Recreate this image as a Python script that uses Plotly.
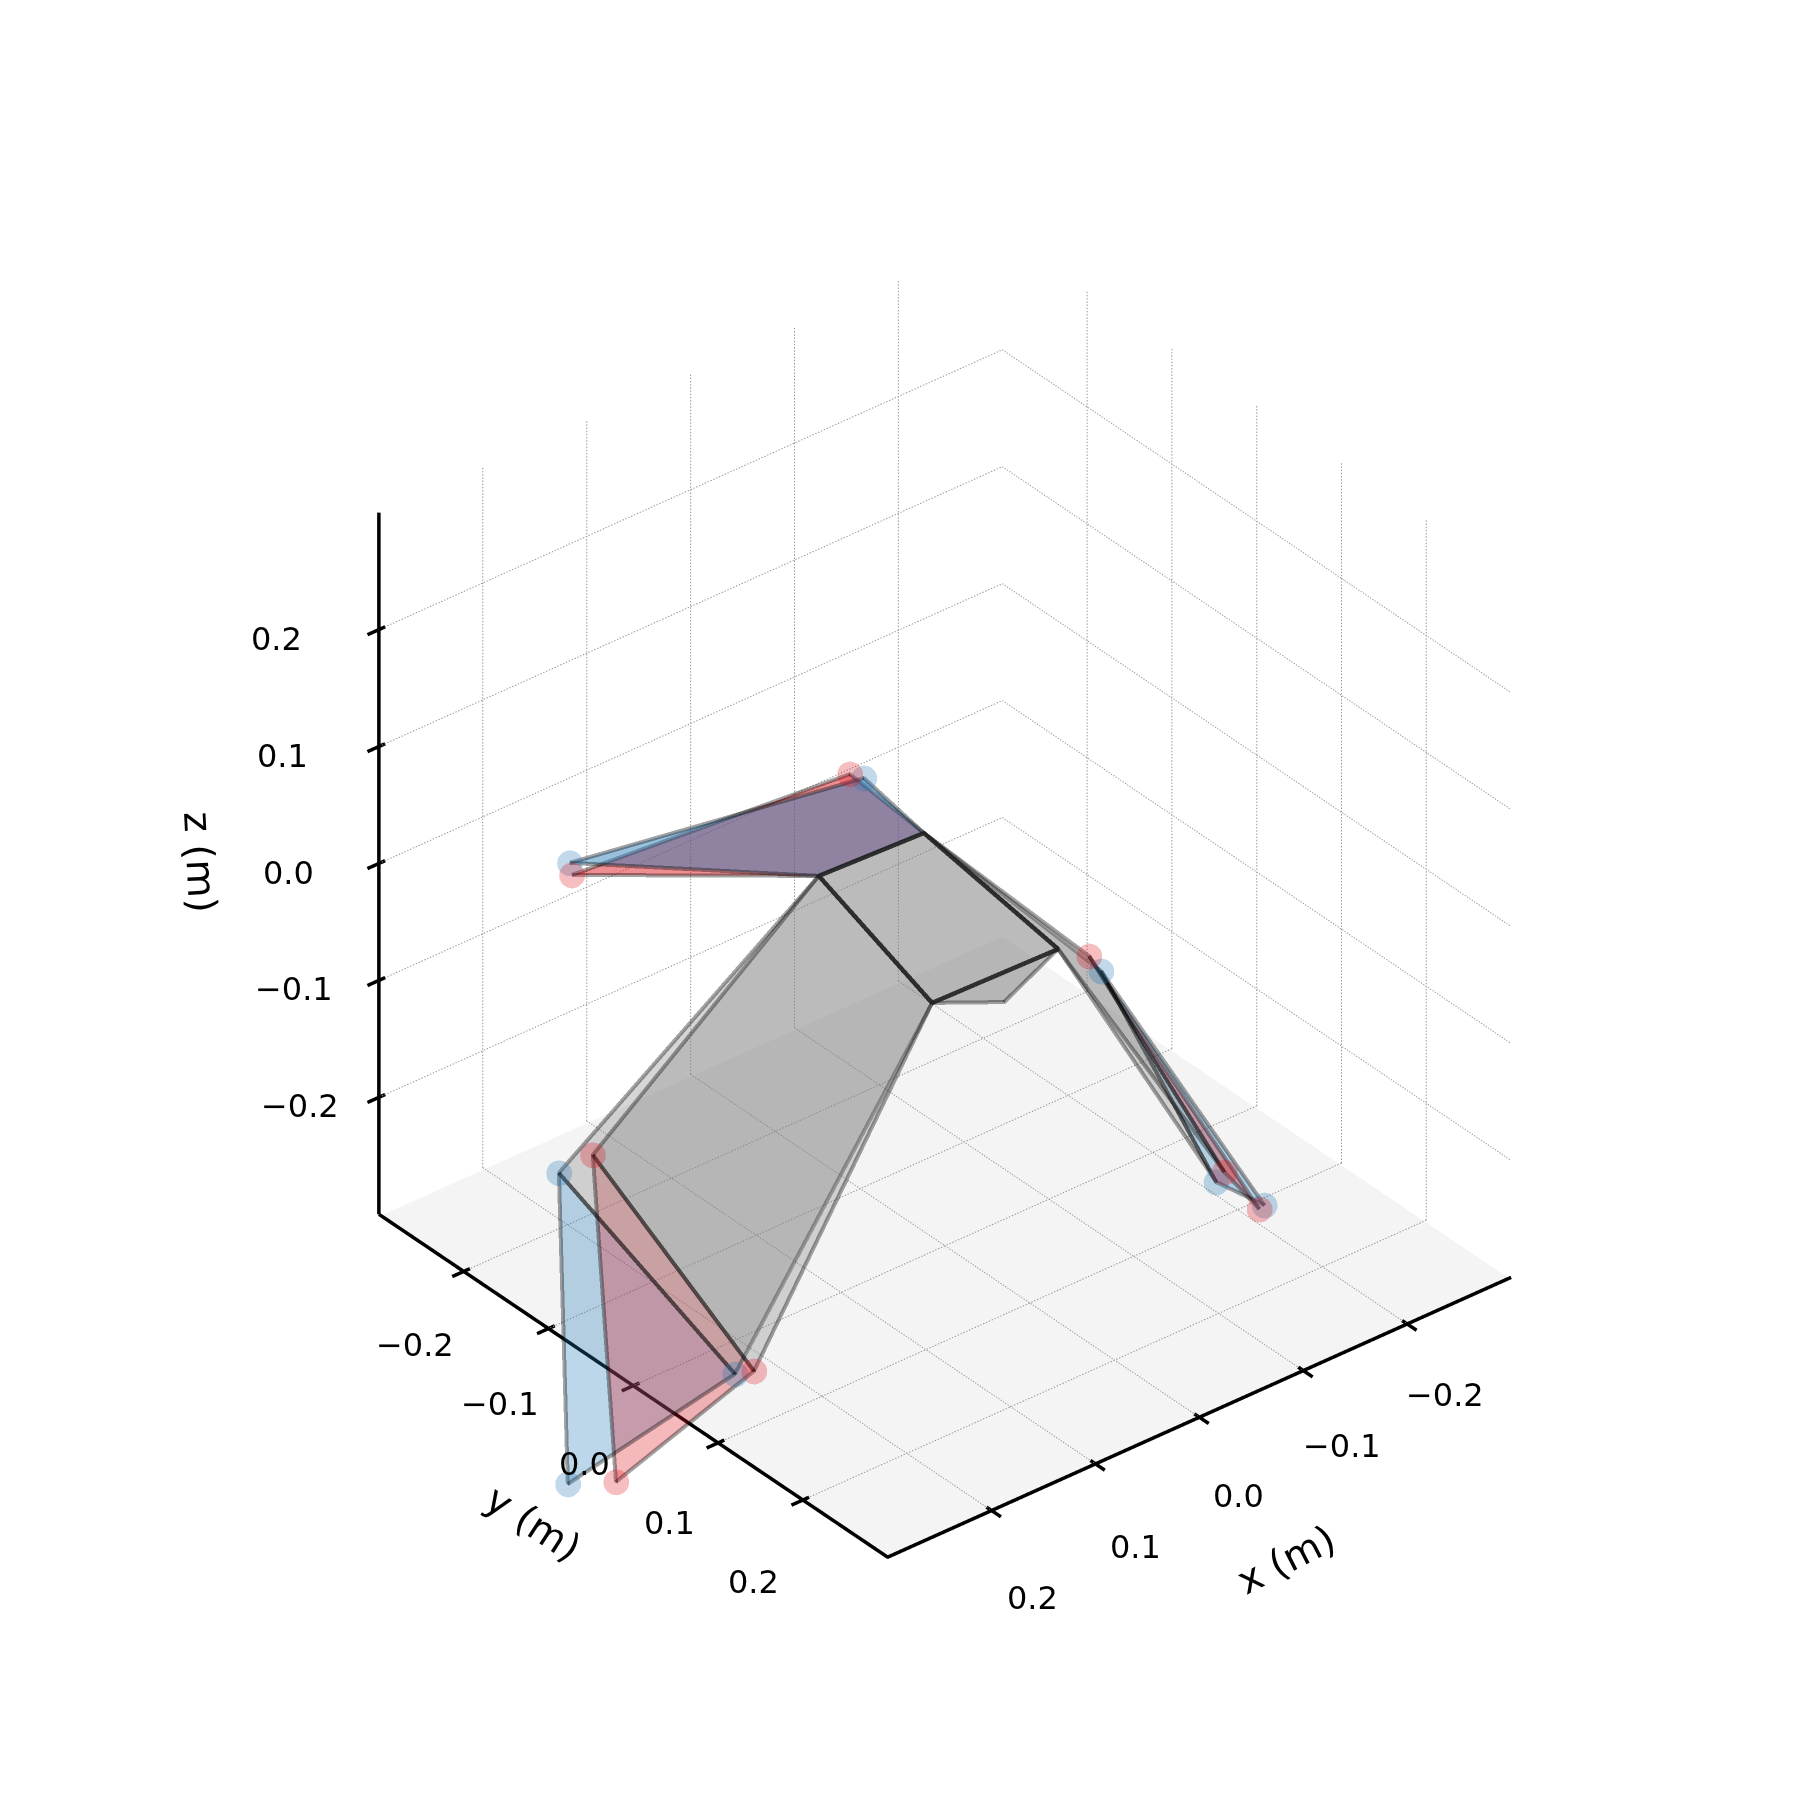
import plotly.graph_objects as go

# ---- data (metres) ----
body_x = [0.0265, -0.0710, -0.0491, 0.0699, 0.0075]
body_y = [-0.1164, -0.1119, 0.0733, 0.0704, 0.0789]
body_z = [-0.03, -0.03, -0.03, -0.03, -0.05]

red_x = [0.1483, -0.0487, -0.0309, -0.0742, -0.1128, 0.2258, 0.2678, 0.3924]
red_y = [-0.2584, -0.1719, 0.1321, 0.2385, 0.2325, -0.1387, 0.1029, 0.0928]
red_z = [-0.05, 0.0, 0.0, -0.15, -0.2, -0.2, -0.25, -0.3]

blue_x = [0.1391, -0.0534, -0.0250, -0.0610, -0.1191, 0.2608, 0.2813, 0.4220]
blue_y = [-0.2721, -0.1611, 0.1535, 0.2451, 0.2306, -0.1358, 0.0970, 0.0723]
blue_z = [-0.05, 0.0, 0.0, -0.15, -0.2, -0.2, -0.25, -0.3]

tick_values = [-0.2, -0.1, 0.0, 0.1, 0.2]
tick_labels = ["\u22120.2", "\u22120.1", "0.0", "0.1", "0.2"]
box_limit = 0.3

# ---- style ----
RED = "rgb(220,20,30)"
BLUE = "rgb(31,119,180)"
GREY = "rgb(128,128,128)"
FONT = "DejaVu Sans"
EDGE = "rgba(0,0,0,0.36)"
DARK = "rgba(30,30,30,0.85)"
EW = 8
GREY_A = 0.32
lim = box_limit
FLAT = dict(ambient=1, diffuse=0, specular=0, roughness=1, fresnel=0)


def side(xs, ys, zs):
    return (list(body_x) + list(xs), list(body_y) + list(ys), list(body_z) + list(zs))


def polygon(verts, idx, color, opacity):
    X, Y, Z = verts
    return go.Mesh3d(
        x=[X[n] for n in idx], y=[Y[n] for n in idx], z=[Z[n] for n in idx],
        i=[0] * (len(idx) - 2), j=list(range(1, len(idx) - 1)), k=list(range(2, len(idx))),
        color=color, opacity=opacity, flatshading=True, lighting=FLAT,
        hoverinfo="skip", showscale=False,
    )


def outline(verts, idx, color, width=EW):
    X, Y, Z = verts
    loop = list(idx) + [idx[0]]
    return go.Scatter3d(
        x=[X[n] for n in loop], y=[Y[n] for n in loop], z=[Z[n] for n in loop],
        mode="lines", line=dict(color=color, width=width), hoverinfo="skip", showlegend=False,
    )


def dotted(a, b, count=220):
    """Short dashes along a grid line, so the dots keep the same pitch at any zoom."""
    xs, ys, zs = [], [], []
    for m in range(count):
        f0, f1 = m / count, (m + 0.45) / count
        xs += [a[0] + (b[0] - a[0]) * f0, a[0] + (b[0] - a[0]) * f1, None]
        ys += [a[1] + (b[1] - a[1]) * f0, a[1] + (b[1] - a[1]) * f1, None]
        zs += [a[2] + (b[2] - a[2]) * f0, a[2] + (b[2] - a[2]) * f1, None]
    return xs, ys, zs


fig = go.Figure()

# floor pane
fig.add_trace(go.Mesh3d(
    x=[-lim, lim, lim, -lim], y=[-lim, -lim, lim, lim], z=[-lim - 0.002] * 4,
    i=[0, 0], j=[1, 2], k=[2, 3], color="#f4f4f4", opacity=1, flatshading=True,
    lighting=FLAT, hoverinfo="skip",
))

# dotted grid on the floor and the two back walls
gx, gy, gz = [], [], []
for t in tick_values:
    for a, b in (
        ((t, -lim, -lim), (t, lim, -lim)), ((-lim, t, -lim), (lim, t, -lim)),
        ((t, -lim, -lim), (t, -lim, lim)), ((lim, -lim, t), (-lim, -lim, t)),
        ((-lim, t, -lim), (-lim, t, lim)), ((-lim, -lim, t), (-lim, lim, t)),
    ):
        sx, sy, sz = dotted(a, b)
        gx += sx
        gy += sy
        gz += sz
fig.add_trace(go.Scatter3d(x=gx, y=gy, z=gz, mode="lines",
                           line=dict(color="rgb(150,150,150)", width=2),
                           hoverinfo="skip", showlegend=False))

# surfaces
red_v = side(red_x, red_y, red_z)
blue_v = side(blue_x, blue_y, blue_z)
n = len(body_x)
upper = [n + 0, n + 1, 1, 0]
tips = [[n + 2, n + 3, n + 4], [n + 5, n + 6, n + 7]]
bands = [[0, 3, n + 6, n + 5], [2, n + 3, n + 2, 1]]
torso = [0, 1, 2, 3]
tail = [3, 2, 4]

for verts, col, second in ((red_v, RED, 0.26), (blue_v, BLUE, 0.22)):
    fig.add_trace(polygon(verts, upper, col, 0.3))
    fig.add_trace(polygon(verts, upper, col, second))
    fig.add_trace(outline(verts, upper, EDGE))
for verts, col in ((blue_v, BLUE), (red_v, RED)):
    for t in tips:
        fig.add_trace(polygon(verts, t, col, 0.3))
for verts in (blue_v, red_v):
    for b in bands:
        fig.add_trace(polygon(verts, b, GREY, GREY_A))
    for t in tips:
        fig.add_trace(outline(verts, t, EDGE))
    for b in bands:
        fig.add_trace(outline(verts, b, EDGE))

for verts in (red_v, blue_v):
    fig.add_trace(polygon(verts, torso, GREY, GREY_A))
    fig.add_trace(polygon(verts, tail, GREY, GREY_A))
fig.add_trace(outline(red_v, tail, EDGE))
fig.add_trace(outline(red_v, torso, DARK, 9))

# joints
for xs, ys, zs, col in ((blue_x, blue_y, blue_z, BLUE), (red_x, red_y, red_z, RED)):
    fig.add_trace(go.Scatter3d(x=xs, y=ys, z=zs, mode="markers",
                               marker=dict(size=15, color=col, opacity=0.28, line=dict(width=0)),
                               hoverinfo="skip", showlegend=False))

# axis lines and ticks
tx = [lim, lim, -lim, None, lim, lim]
ty = [-lim, lim, lim, None, -lim, -lim]
tz = [-lim, -lim, -lim, None, -lim, lim]
OUT, IN = 0.011, 0.006
for t in tick_values:
    tx += [None, t, t, None, lim + OUT, lim - IN, None, lim + OUT, lim - IN]
    ty += [None, lim + OUT, lim - IN, None, t, t, None, -lim, -lim]
    tz += [None, -lim, -lim, None, -lim, -lim, None, t, t]
fig.add_trace(go.Scatter3d(x=tx, y=ty, z=tz, mode="lines",
                           line=dict(color="black", width=7), hoverinfo="skip", showlegend=False))

# tick labels and axis titles
anns = []
font = dict(family=FONT, size=32, color="black")
tfont = dict(family=FONT, size=39, color="black")
for t, lab in zip(tick_values, tick_labels):
    anns.append(dict(x=t, y=lim, z=-lim, text=lab, showarrow=False, font=font,
                     xshift=39 + 8 * t, yshift=-79 - 40 * t))
    anns.append(dict(x=lim, y=t, z=-lim, text=lab, showarrow=False, font=font,
                     xshift=-49, yshift=-78 - 22 * t))
    anns.append(dict(x=lim, y=-lim, z=t, text=lab, showarrow=False, font=font,
                     xshift=-91 - 60 * t, yshift=-9))
anns.append(dict(x=0, y=lim, z=-lim, text="x (m)", showarrow=False, font=tfont, textangle=-27, xshift=87, yshift=-142))
anns.append(dict(x=lim, y=0, z=-lim, text="y (m)", showarrow=False, font=tfont, textangle=33, xshift=-100, yshift=-138))
anns.append(dict(x=lim, y=-lim, z=0, text="z (m)", showarrow=False, font=tfont, textangle=87, xshift=-179, yshift=2))

hidden = dict(visible=False, range=[-0.5, 0.5], autorange=False, showspikes=False)
D = 1.0
ZOOM = 1.512
fig.update_layout(
    width=1800, height=1800, showlegend=False, hovermode=False,
    paper_bgcolor="white", margin=dict(l=0, r=0, t=0, b=0),
    scene=dict(
        domain=dict(x=[0.0412, 1.0], y=[0.0144, 1.0]),
        xaxis=hidden, yaxis=hidden, zaxis=hidden,
        aspectmode="manual", aspectratio=dict(x=ZOOM, y=ZOOM, z=1.044 * ZOOM),
        camera=dict(projection=dict(type="orthographic"),
                    up=dict(x=0, y=0, z=1), center=dict(x=0, y=0, z=0),
                    eye=dict(x=0.528 * D, y=0.647 * D, z=0.55 * D)),
        annotations=anns,
    ),
)
fig.write_html("out.html")
